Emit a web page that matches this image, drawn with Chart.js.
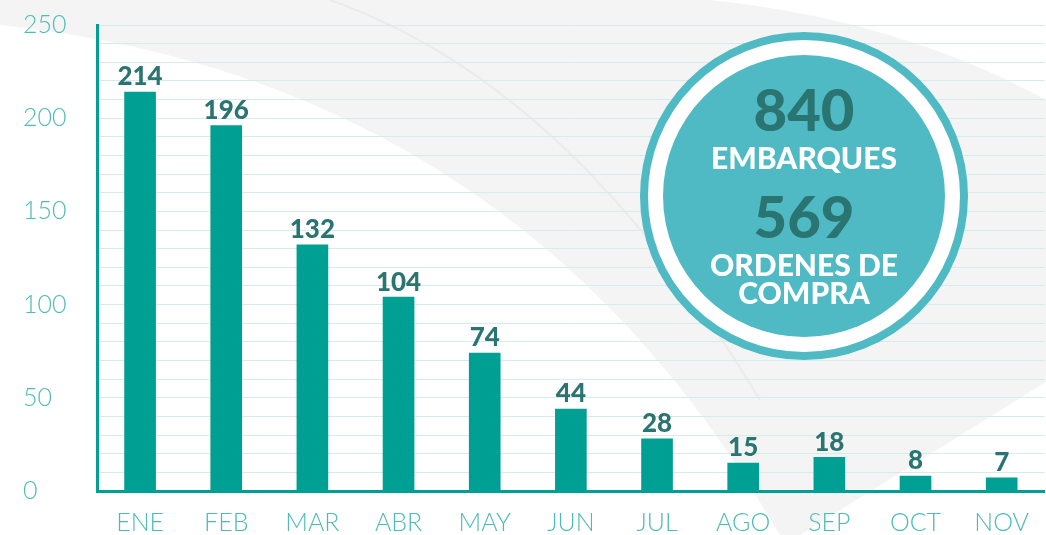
<!DOCTYPE html>
<html>
<head>
<meta charset="utf-8">
<script src="https://cdn.jsdelivr.net/npm/chart.js@4.4.1/dist/chart.umd.min.js"></script>
<style>
  body { margin: 0; background: #fff; }
  canvas { display: block; }
</style>
</head>
<body>
<canvas id="graph" width="1046" height="535"></canvas>
<script>
// data
const months = ["ENE", "FEB", "MAR", "ABR", "MAY", "JUN", "JUL", "AGO", "SEP", "OCT", "NOV"];
const embarques = [214, 196, 132, 104, 74, 44, 28, 15, 18, 8, 7];
const ordenesCompra = 569;
const yMax = 250;
const gridStep = 10;
const labelStep = 50;

const totalEmbarques = embarques.reduce((a, b) => a + b, 0);

const TEAL = "#009f94";
const LIGHT = "#4dbcb7";
const DARK = "#2a7472";
const CIRCLE = "#4fbac3";

// -------------------------
// background swoosh
// -------------------------
const backdrop = {
  id: "backdrop",
  beforeDraw(c) {
    const ctx = c.ctx;
    ctx.save();
    ctx.fillStyle = "#fff";
    ctx.fillRect(0, 0, c.width, c.height);
    ctx.fillStyle = "#f4f4f4";
    ctx.beginPath();
    ctx.moveTo(0, 0);
    ctx.lineTo(0, 25);
    ctx.bezierCurveTo(330, 60, 600, 220, 780, 535);
    ctx.lineTo(800, 535);
    ctx.lineTo(1046, 382);
    ctx.lineTo(1046, 100);
    ctx.quadraticCurveTo(900, 20, 710, 0);
    ctx.closePath();
    ctx.fill();
    // faint inner arc
    ctx.strokeStyle = "#ebebeb";
    ctx.lineWidth = 2;
    ctx.beginPath();
    ctx.moveTo(330, 0);
    ctx.bezierCurveTo(500, 60, 640, 200, 760, 400);
    ctx.stroke();
    ctx.restore();
  }
};

// -------------------------
// value labels on bars
// -------------------------
const valueLabels = {
  id: "valueLabels",
  afterDatasetsDraw(c) {
    const ctx = c.ctx;
    const meta = c.getDatasetMeta(0);
    ctx.save();
    ctx.fillStyle = DARK;
    ctx.font = "900 26px Lato";
    ctx.textAlign = "center";
    ctx.textBaseline = "bottom";
    meta.data.forEach((bar, i) => {
      ctx.fillText(String(embarques[i]), bar.x, bar.y - 2);
    });
    ctx.restore();
  }
};

// -------------------------
// summary circle
// -------------------------
const badge = {
  id: "badge",
  afterDraw(c) {
    const ctx = c.ctx;
    const cx = 804, cy = 196;
    ctx.save();
    ctx.fillStyle = "#fff";
    ctx.beginPath();
    ctx.arc(cx, cy, 164, 0, Math.PI * 2);
    ctx.fill();
    ctx.strokeStyle = CIRCLE;
    ctx.lineWidth = 8;
    ctx.beginPath();
    ctx.arc(cx, cy, 160, 0, Math.PI * 2);
    ctx.stroke();
    ctx.fillStyle = CIRCLE;
    ctx.beginPath();
    ctx.arc(cx, cy, 141, 0, Math.PI * 2);
    ctx.fill();

    ctx.textAlign = "center";
    ctx.textBaseline = "middle";
    ctx.fillStyle = DARK;
    ctx.font = "900 58px Lato";
    ctx.fillText(String(totalEmbarques), cx, 112);
    ctx.fillText(String(ordenesCompra), cx, 219);
    ctx.fillStyle = "#fff";
    ctx.font = "900 30px Lato";
    ctx.fillText("EMBARQUES", cx, 159);
    ctx.fillText("ORDENES DE", cx, 266);
    ctx.fillText("COMPRA", cx, 294);
    ctx.restore();
  }
};

// -------------------------
// chart
// -------------------------
const ctx = document.getElementById("graph").getContext("2d");

new Chart(ctx, {
  type: "bar",
  data: {
    labels: months,
    datasets: [{
      data: embarques,
      backgroundColor: TEAL,
      barThickness: 31
    }]
  },
  options: {
    responsive: false,
    animation: false,
    devicePixelRatio: 1,
    layout: { padding: { left: 23, top: 25, right: 0, bottom: 0 } },
    plugins: {
      legend: { display: false },
      tooltip: { enabled: false }
    },
    scales: {
      x: {
        grid: { display: false, drawTicks: false },
        border: { color: TEAL, width: 3 },
        ticks: {
          color: LIGHT,
          font: { family: "Lato", size: 25, weight: 300 },
          padding: 17
        },
        afterFit(s) { s.height = 44; }
      },
      y: {
        min: 0,
        max: yMax,
        grid: { color: "#d4ecec", lineWidth: 1, drawTicks: false },
        border: { color: TEAL, width: 3 },
        ticks: {
          stepSize: gridStep,
          autoSkip: false,
          crossAlign: "far",
          color: LIGHT,
          font: { family: "Lato", size: 25, weight: 300 },
          callback: v => (v % labelStep === 0 ? v : "")
        },
        afterFit(s) { s.width = 74; }
      }
    }
  },
  plugins: [backdrop, valueLabels, badge]
});
</script>
</body>
</html>
